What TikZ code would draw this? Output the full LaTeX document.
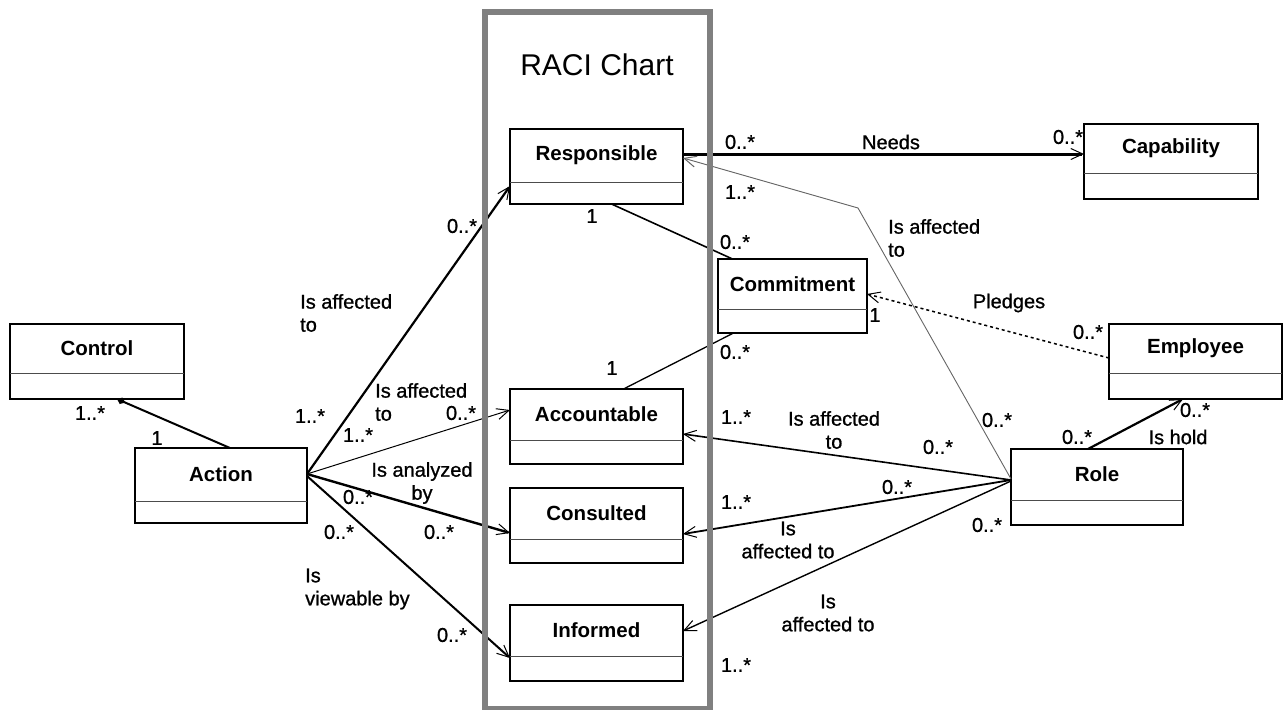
\documentclass[tikz,border=0pt]{standalone}
\usepackage{fontspec}
\setmainfont{Liberation Sans}
\newfontfamily\lblfont{Liberation Sans}[FakeBold=0.9]
\usetikzlibrary{arrows.meta}
\newcommand\umlclass[7]{%
  \node[clsbox, minimum width=#4pt-#2pt, minimum height=#5pt-#3pt, anchor=north west] (#1) at (#2,#3) {};
  \draw[divline] (#1.west |- 0,#6) -- (#1.east |- 0,#6);
  \node[clsname] (#1-t) at ({(#2+#4)/2},{(#3+#6)/2}) {#7};
}
\begin{document}
\begin{tikzpicture}[x=1pt,y=-1pt,
  clsbox/.style={draw, line width=2.4pt, inner sep=0pt, outer sep=0pt, fill=white},
  divline/.style={line width=0.9pt, draw=black!70},
  clsname/.style={font=\fontsize{20.5}{24}\selectfont\bfseries, inner sep=0pt},
  lbl/.style={font=\lblfont\fontsize{20}{23}\selectfont, inner sep=0pt},
  nav/.style={-{Straight Barb[length=12pt,width=11pt,line width=1pt]}},
  comp/.style={-{Diamond[length=9pt,width=7pt]}},
]
\useasboundingbox (0,0) rectangle (1284,709);

% classes
\umlclass{resp}{510}{129}{683}{204}{182}{Responsible}
\umlclass{acc}{510}{389}{683}{464}{440}{Accountable}
\umlclass{cons}{510}{488}{683}{563}{539}{Consulted}
\umlclass{inf}{510}{605}{683}{681}{656}{Informed}
\umlclass{ctrl}{10}{324}{184}{399}{373}{Control}
\umlclass{act}{135}{448}{307}{523}{501}{Action}
\umlclass{commit}{718}{259}{867}{333}{309}{Commitment}
\umlclass{cap}{1084}{124}{1258}{199}{173}{Capability}
\umlclass{emp}{1109}{324}{1282}{399}{373}{Employee}
\umlclass{role}{1011}{449}{1183}{525}{500}{Role}

% connectors
\draw[line width=2pt, comp] ([xshift=9pt]act.north) -- ([xshift=20pt]ctrl.south);
\draw[line width=2.2pt, nav] (act.east |- 0,474) -- (resp.west |- 0,186);
\draw[line width=1pt, nav] (act.east |- 0,474) -- (acc.west |- 0,410);
\draw[line width=2.4pt, nav] (act.east |- 0,474) -- (cons.west |- 0,533);
\draw[line width=2pt, nav] (act.east |- 0,476) -- (inf.west |- 0,658);
\draw[line width=3pt, nav] (resp.east |- 0,154) -- (cap.west |- 0,154);
\coordinate (bend) at (858,208);
\draw[line width=0.9pt, draw=black!60, nav] (role.west |- 0,479) -- (bend) -- (resp.east |- 0,158);
\draw[line width=1.6pt] ([xshift=15pt]resp.south) -- ([xshift=-60pt]commit.north);
\draw[line width=1.3pt] ([xshift=27pt]acc.north) -- ([xshift=-59pt]commit.south);
\draw[line width=1.5pt, dash pattern=on 3pt off 3pt, nav] (emp.west |- 0,358) -- (commit.east |- 0,294);
\draw[line width=1.6pt, nav] (role.west |- 0,480) -- (acc.east |- 0,434);
\draw[line width=1.8pt, nav] (role.west |- 0,480) -- (cons.east |- 0,534);
\draw[line width=1.4pt, nav] (role.west |- 0,481) -- (inf.east |- 0,631);
\draw[line width=2.2pt, nav] ([xshift=-9pt]role.north) -- ([xshift=-12.5pt]emp.south);

% RACI frame
\node[draw=black!50, line width=6pt, minimum width=225pt, minimum height=697pt, anchor=north west, inner sep=0pt] (raci) at (482,9) {};
\node[font=\fontsize{30}{34}\selectfont, inner sep=0pt] (racit) at (597,65) {RACI Chart};

% labels
\node[lbl] (m1) at (90,413) {1..*};
\node[lbl] (m2) at (157,438) {1};
\node[lbl, align=left, anchor=west] (l1) at (300,313) {Is affected\\to};
\node[lbl] (m3) at (462,226) {0..*};
\node[lbl] (m4) at (310,416) {1..*};
\node[lbl, align=left, anchor=west] (l2) at (375,402) {Is affected\\to};
\node[lbl] (m5) at (461,413) {0..*};
\node[lbl] (m6) at (358,435) {1..*};
\node[lbl, align=center] (l3) at (422,483) {Is analyzed\\by};
\node[lbl] (m7) at (358,497) {0..*};
\node[lbl] (m8) at (439,532) {0..*};
\node[lbl] (m9) at (339,532) {0..*};
\node[lbl, align=left, anchor=west] (l4) at (305,589) {Is\\viewable by};
\node[lbl] (m10) at (452,635) {0..*};

\node[lbl] (m11) at (740,142) {0..*};
\node[lbl] (m12) at (740,192) {1..*};
\node[lbl] (m13) at (592,216) {1};
\node[lbl] (m14) at (735,242) {0..*};
\node[lbl] (m15) at (875,315) {1};
\node[lbl] (m16) at (735,352) {0..*};
\node[lbl] (m17) at (612,368) {1};
\node[lbl] (l5) at (891,142) {Needs};
\node[lbl] (m18) at (1068,137) {0..*};
\node[lbl, align=left, anchor=west] (l6) at (888,238) {Is affected\\to};
\node[lbl] (l7) at (1009,303) {Pledges};
\node[lbl] (m19) at (1088,332) {0..*};
\node[lbl] (m20) at (736,417) {1..*};
\node[lbl, align=center] (l8) at (834,430) {Is affected\\to};
\node[lbl] (m21) at (938,447) {0..*};
\node[lbl] (m22) at (897,487) {0..*};
\node[lbl] (m23) at (736,502) {1..*};
\node[lbl, align=center] (l9) at (788,540) {Is\\affected to};
\node[lbl, align=center] (l10) at (828,613) {Is\\affected to};
\node[lbl] (m24) at (736,665) {1..*};
\node[lbl] (m25) at (997,420) {0..*};
\node[lbl] (m26) at (987,525) {0..*};
\node[lbl] (m27) at (1077,437) {0..*};
\node[lbl] (m28) at (1195,410) {0..*};
\node[lbl] (l11) at (1178,437) {Is hold};
\end{tikzpicture}
\end{document}
